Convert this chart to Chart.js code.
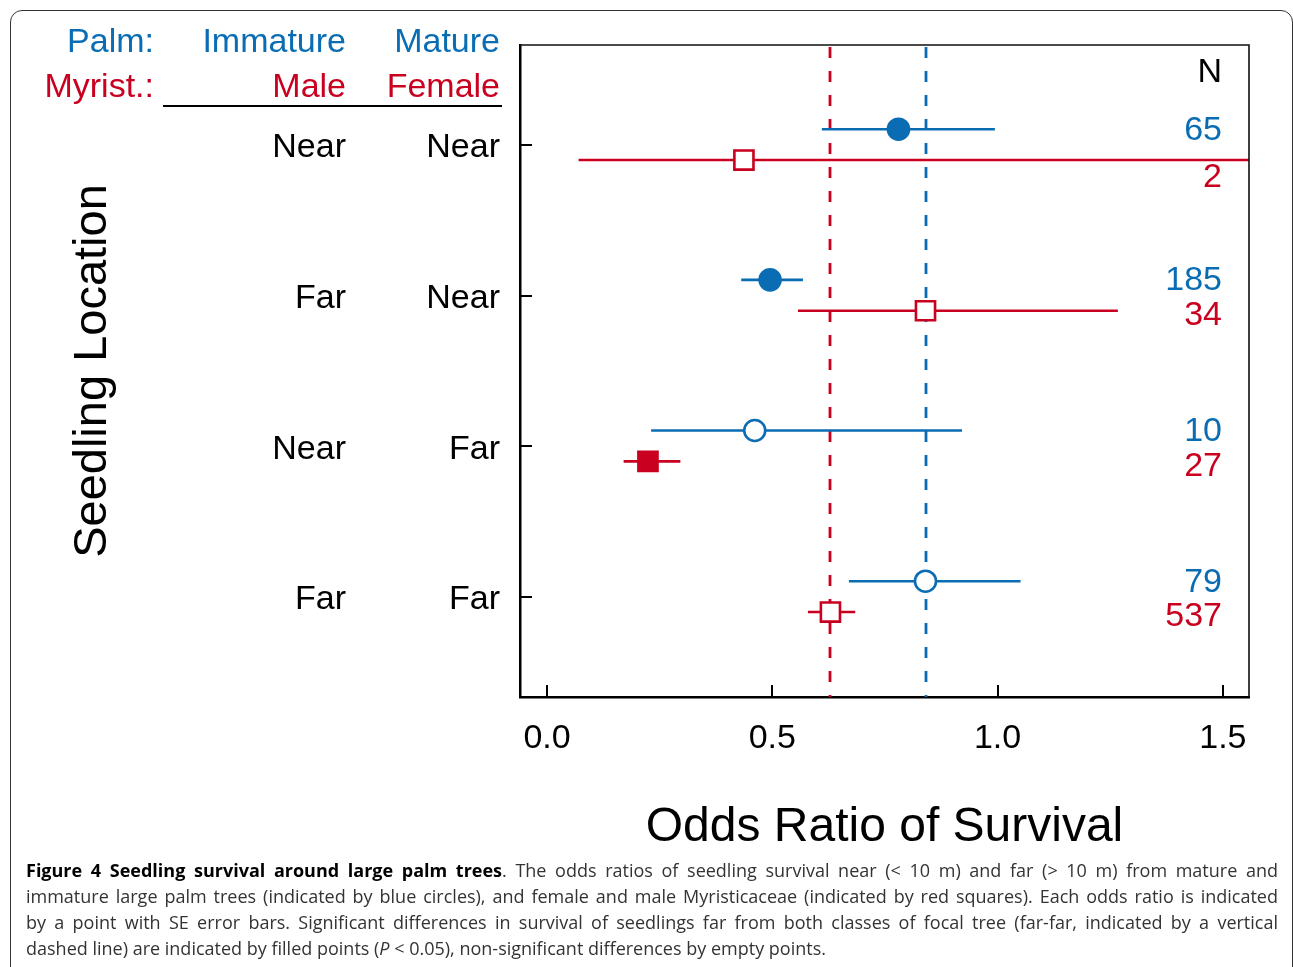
<!DOCTYPE html>
<html>
<head>
<meta charset="utf-8">
<script src="https://cdn.jsdelivr.net/npm/chart.js@4.4.1/dist/chart.umd.min.js"></script>
<style>
  body { margin: 0; background: #fff; }
  #wrap { position: relative; width: 1293px; height: 967px; overflow: hidden; }
  #frame { position: absolute; left: 10px; top: 10px; width: 1283px; height: 1000px;
           border: 1.5px solid #333; border-radius: 12px; box-sizing: border-box; }
  #chart { position: absolute; left: 0; top: 0; }
  #caption { position: absolute; left: 26px; top: 857px; width: 1252px;
             font-family: "Open Sans", sans-serif; font-size: 18px; color: #333; }
  #caption div { height: 26px; line-height: 26px; text-align: justify; text-align-last: justify; white-space: nowrap; }
  #caption div.last { text-align-last: left; }
  #caption b { color: #000; }
</style>
</head>
<body>
<div id="wrap">
  <div id="frame"></div>
  <canvas id="chart" width="1293" height="860"></canvas>
  <div id="caption">
    <div><b>Figure 4 Seedling survival around large palm trees</b>. The odds ratios of seedling survival near (&lt; 10 m) and far (&gt; 10 m) from mature and</div>
    <div>immature large palm trees (indicated by blue circles), and female and male Myristicaceae (indicated by red squares). Each odds ratio is indicated</div>
    <div>by a point with SE error bars. Significant differences in survival of seedlings far from both classes of focal tree (far-far, indicated by a vertical</div>
    <div class="last">dashed line) are indicated by filled points (<i>P</i> &lt; 0.05), non-significant differences by empty points.</div>
  </div>
</div>
<script>
// rows, top to bottom
const rows = [1, 2, 3, 4];
const immatureMaleLoc = ['Near', 'Far', 'Near', 'Far'];
const matureFemaleLoc = ['Near', 'Near', 'Far', 'Far'];

// palms (blue circles)
const palmOdds = [0.780, 0.495, 0.461, 0.840];
const palmLow = [0.610, 0.431, 0.231, 0.670];
const palmHigh = [0.994, 0.568, 0.921, 1.051];
const palmN = [65, 185, 10, 79];
const palmSig = [true, true, false, false];

// Myristicaceae (red squares)
const myrOdds = [0.437, 0.840, 0.224, 0.629];
const myrLow = [0.070, 0.557, 0.170, 0.579];
const myrHigh = [1.600, 1.267, 0.296, 0.684];
const myrN = [2, 34, 27, 537];
const myrSig = [false, false, true, false];

// far-far reference lines
const palmFarFar = 0.840;
const myrFarFar = 0.629;

const xTicks = [0.0, 0.5, 1.0, 1.5];

const BLUE = '#0a6db3';
const RED = '#c9001f';
const FONT = '"Liberation Sans", Arial, sans-serif';

const palmShift = -0.105;
const myrShift = 0.1;

const extras = {
  id: 'extras',
  beforeDatasetsDraw(chart) {
    const { ctx, chartArea: a, scales: { x, y } } = chart;
    ctx.save();
    ctx.beginPath();
    ctx.rect(a.left, a.top, a.right - a.left, a.bottom - a.top);
    ctx.clip();

    // dashed far-far lines
    ctx.lineWidth = 2.8;
    ctx.setLineDash([11, 13]);
    [[myrFarFar, RED], [palmFarFar, BLUE]].forEach(([v, c]) => {
      const px = Math.round(x.getPixelForValue(v));
      ctx.strokeStyle = c;
      ctx.beginPath();
      ctx.moveTo(px, a.top + 2);
      ctx.lineTo(px, a.bottom);
      ctx.stroke();
    });

    // SE error bars
    ctx.setLineDash([]);
    ctx.lineWidth = 2.6;
    rows.forEach((r, i) => {
      ctx.strokeStyle = BLUE;
      let py = y.getPixelForValue(r + palmShift);
      ctx.beginPath();
      ctx.moveTo(x.getPixelForValue(palmLow[i]), py);
      ctx.lineTo(x.getPixelForValue(palmHigh[i]), py);
      ctx.stroke();
      ctx.strokeStyle = RED;
      py = y.getPixelForValue(r + myrShift);
      ctx.beginPath();
      ctx.moveTo(x.getPixelForValue(myrLow[i]), py);
      ctx.lineTo(x.getPixelForValue(myrHigh[i]), py);
      ctx.stroke();
    });
    ctx.restore();
  },
  afterDraw(chart) {
    const { ctx, chartArea: a, scales: { x, y } } = chart;
    ctx.save();

    // top and right frame
    ctx.strokeStyle = '#111';
    ctx.lineWidth = 1.6;
    ctx.beginPath();
    ctx.moveTo(a.left, a.top);
    ctx.lineTo(a.right, a.top);
    ctx.lineTo(a.right, a.bottom);
    ctx.stroke();

    // inward tick marks
    ctx.strokeStyle = '#000';
    ctx.lineWidth = 2;
    rows.forEach(r => {
      const py = Math.round(y.getPixelForValue(r));
      ctx.beginPath();
      ctx.moveTo(a.left, py);
      ctx.lineTo(a.left + 12, py);
      ctx.stroke();
    });
    xTicks.forEach(v => {
      const px = Math.round(x.getPixelForValue(v));
      ctx.beginPath();
      ctx.moveTo(px, a.bottom);
      ctx.lineTo(px, a.bottom - 12);
      ctx.stroke();
    });

    // header table
    const c0 = a.left - 366, c1 = a.left - 174, c2 = a.left - 20;
    const dy = 3;
    ctx.font = '34px ' + FONT;
    ctx.textAlign = 'right';
    ctx.textBaseline = 'middle';
    ctx.fillStyle = BLUE;
    ctx.fillText('Palm:', c0, 40 + dy);
    ctx.fillText('Immature', c1, 40 + dy);
    ctx.fillText('Mature', c2, 40 + dy);
    ctx.fillStyle = RED;
    ctx.fillText('Myrist.:', c0, 85 + dy);
    ctx.fillText('Male', c1, 85 + dy);
    ctx.fillText('Female', c2, 85 + dy);
    ctx.beginPath();
    ctx.lineWidth = 2;
    ctx.moveTo(c0 + 9, 106);
    ctx.lineTo(c2 + 2, 106);
    ctx.stroke();

    ctx.fillStyle = '#000';
    rows.forEach((r, i) => {
      const py = y.getPixelForValue(r) + dy;
      ctx.fillText(immatureMaleLoc[i], c1, py);
      ctx.fillText(matureFemaleLoc[i], c2, py);
    });

    // sample sizes
    const nx = a.right - 27;
    ctx.fillText('N', nx, 70 + dy);
    rows.forEach((r, i) => {
      ctx.fillStyle = BLUE;
      ctx.fillText(String(palmN[i]), nx, y.getPixelForValue(r + palmShift) - 2 + dy);
      ctx.fillStyle = RED;
      const off = myrHigh[i] > x.max ? 15 : 2;
      ctx.fillText(String(myrN[i]), nx, y.getPixelForValue(r + myrShift) + off + dy);
    });
    ctx.restore();
  }
};

new Chart(document.getElementById('chart'), {
  type: 'scatter',
  data: {
    datasets: [
      {
        label: 'Palm',
        data: rows.map((r, i) => ({ x: palmOdds[i], y: r + palmShift })),
        pointStyle: 'circle',
        pointRadius: 10.5,
        borderWidth: 2.6,
        borderColor: BLUE,
        backgroundColor: palmSig.map(s => s ? BLUE : '#fff'),
      },
      {
        label: 'Myristicaceae',
        data: rows.map((r, i) => ({ x: myrOdds[i], y: r + myrShift })),
        pointStyle: 'rect',
        pointRadius: 13.5,
        borderWidth: 2.6,
        borderColor: RED,
        backgroundColor: myrSig.map(s => s ? RED : '#fff'),
      },
    ],
  },
  options: {
    responsive: false,
    animation: false,
    layout: { padding: { left: 65, top: 45, right: 44, bottom: 0 } },
    plugins: { legend: { display: false }, tooltip: { enabled: false } },
    scales: {
      x: {
        type: 'linear',
        min: -0.06,
        max: 1.558,
        afterBuildTicks: s => { s.ticks = xTicks.map(v => ({ value: v })); },
        afterFit: s => { s.height = 163; },
        ticks: {
          font: { family: FONT, size: 34 },
          color: '#000',
          padding: 21,
          maxRotation: 0,
          autoSkip: false,
          callback: v => v.toFixed(1),
        },
        grid: { display: false, drawTicks: false },
        border: { display: true, color: '#000', width: 2.5 },
        title: {
          display: true,
          text: 'Odds Ratio of Survival',
          font: { family: FONT, size: 48 },
          color: '#000',
          padding: { top: 0, bottom: 3 },
        },
      },
      y: {
        type: 'linear',
        reverse: true,
        min: 0.3363,
        max: 4.6637,
        afterFit: s => { s.width = 455; },
        ticks: { display: false },
        grid: { display: false, drawTicks: false },
        border: { display: true, color: '#000', width: 2.5 },
        title: {
          display: true,
          text: 'Seedling Location',
          font: { family: FONT, size: 47 },
          color: '#000',
          padding: 0,
        },
      },
    },
  },
  plugins: [extras],
});
</script>
</body>
</html>
